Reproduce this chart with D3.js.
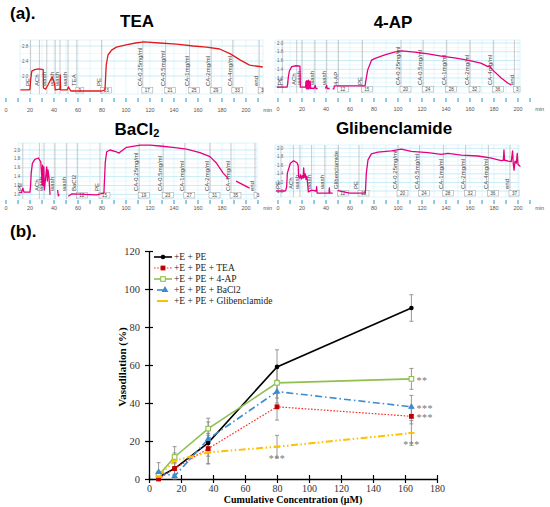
<!DOCTYPE html>
<html>
<head>
<meta charset="utf-8">
<script src="https://cdn.jsdelivr.net/npm/d3@7"></script>
<style>
  body { margin: 0; background: #fff; }
  svg { display: block; }
</style>
</head>
<body>
<svg width="550" height="507"></svg>
<script>
// ---------- (a) tension recordings : [minute, value] ----------
const minuteTicks = [0,10,20,30,40,50,60,70,80,90,100,110,120,130,140,150,160,170,180,190,200,210];
const minuteLabels = [0,20,40,60,80,100,120,140,160,180,200];

const teaYTicks = [2.8, 2.4, 2.0];
const otherYTicks = [2.0, 1.8, 1.6, 1.4, 1.2, 1.0];

const teaTrace = [[12,1.63],[19,1.63],[20,1.65],[20.5,1.89],[21.5,2.13],[24,2.17],[27,2.19],[31,2.17],[31.2,1.68],[33,1.65],
  [35,1.76],[37,1.89],[38.5,1.97],[39.5,1.89],[40.5,1.81],[41,1.63],[45,1.65],[45.2,2.03],[45.5,1.63],[51,1.63],
  [52,1.71],[54,1.6],[80,1.6],[82.5,1.63],[83.5,2.29],[85,2.56],[88,2.69],[92,2.77],[100,2.83],[108,2.88],[115,2.91],
  [128,2.88],[142,2.85],[156,2.8],[167,2.77],[178,2.72],[187,2.59],[195,2.43],[203,2.29],[214,2.24]];

const apTrace = [[-1,0.99],[7.5,0.99],[8,1.05],[8.6,1.22],[9.5,1.36],[11.4,1.46],[15,1.48],[18.3,1.47],[18.6,0.99],[22.7,0.99],
  [23,0.99],[23.3,1.12],[23.6,0.96],[24,1.14],[24.3,0.95],[24.7,1.13],[25,0.96],[25.4,1.15],[25.7,0.95],[26.1,1.12],
  [26.4,0.97],[26.8,1.13],[27.2,0.96],[28,0.97],[30,0.96],[31,1.03],[31.5,0.96],[33,0.96],[34,null],[39.5,0.96],
  [40.5,1.03],[41,0.96],[43,0.96],[44,null],[45.5,0.95],[46.5,0.95],[47,1.02],[72.5,1.02],[74.7,1.38],[78,1.61],
  [81,1.65],[89,1.73],[97,1.79],[103,1.82],[114,1.79],[125,1.75],[136,1.70],[147,1.66],[158,1.61],[169,1.54],
  [175,1.46],[176,1.48],[179,1.38],[186,1.2],[191.7,1.08],[194.4,1.04]];

const baTrace = [[11,1.05],[13,1.04],[14,1.14],[15,1.05],[20,1.05],[20.5,1.2],[21,1.48],[22,1.70],[24,1.79],[27,1.82],
  [29,1.73],[29.7,1.44],[30,1.21],[30.5,1.66],[31,1.2],[31.5,1.62],[32,1.1],[33.9,1.62],[34.5,1.3],[35,1.55],
  [35.8,1.39],[36.7,0.99],[38,null],[43,1.1],[43.6,0.97],[44.5,1.0],[45,null],[51.9,0.96],[54.7,1.01],[75.5,0.99],
  [81.6,1.03],[82.7,1.71],[83.9,1.96],[86.7,2.0],[92,1.96],[94,1.93],[96,1.97],[100.5,2.06],[112,2.11],[120,2.11],
  [128,2.09],[139,2.06],[150.5,2.02],[161.6,1.94],[170,1.85],[175.5,1.70],[181,1.48],[185,1.36],[188,null],
  [191.7,1.30],[203,1.14]];

const glTrace = [[-1.6,1.0],[5.8,1.0],[6.5,1.02],[7.2,1.1],[7.8,1.42],[10.3,1.65],[13,1.71],[15.8,1.66],[16.8,1.6],
  [17.2,1.34],[18,1.30],[18.8,1.38],[19.5,1.28],[20.3,1.36],[21,1.3],[21.4,1.54],[22,1.32],[22.7,1.4],[23.3,1.27],
  [24,1.35],[24.4,1.25],[25.3,0.98],[28,1.02],[31.8,1.0],[32.2,1.1],[32.6,0.95],[42.5,0.95],[42.8,1.07],[43.2,0.95],
  [45.6,0.95],[46,null],[49.8,1.01],[59.7,0.95],[68,0.95],[72.8,0.95],[73.6,1.42],[75,1.73],[77.8,1.87],[83.3,1.91],
  [94.4,1.94],[102.8,1.98],[111,1.93],[125,1.9],[136,1.86],[141.7,1.88],[152.8,1.84],[166.7,1.82],[177.8,1.77],
  [186,1.71],[187.8,1.72],[188.3,1.96],[188.8,1.72],[192,1.70],[194.4,1.69],[195.5,1.94],[196,1.66],[196.7,1.49],
  [197.5,1.7],[198.6,1.65],[199.4,1.88],[200,1.62],[201,1.6],[202,1.57]];

// event comments [minute, text] and numbered comment boxes [minute, number]
const teaMarks = [[20.5,"PE"],[27.8,"ACh"],[34,"wash"],[41,"wash"],[45,"wash"],[51.7,"wash"],[59,"TEA"],[79.7,"PE"],
  [114,"CA-0.25mg/ml"],[133,"CA-0.5mg/ml"],[153,"CA-1mg/ml"],[171,"CA-2mg/ml"],[189,"CA-4mg/ml"],[211,"end"]];
const teaBoxes = [[59,"9"],[79.7,"13"],[114,"17"],[133,"21"],[153,"25"],[171,"29"],[189,"33"],[211,"3"]];

const apMarks = [[3.6,"PE"],[15.6,"ACh"],[20,"wash"],[30.8,"wash"],[40.6,"wash"],[50.3,"4-AP"],[70.3,"PE"],
  [102.5,"CA-0.25mg/ml"],[121,"CA-0.5mg/ml"],[140.6,"CA-1mg/ml"],[160,"CA-2mg/ml"],[179.4,"CA-4mg/ml"],[197,"end"]];
const apBoxes = [[50.3,"12"],[70.3,"15"],[102.5,"20"],[121,"24"],[140.6,"28"],[160,"32"],[179.4,"36"],[197,"3"]];

const baMarks = [[14,"PE"],[27.8,"ACh"],[31.7,"wash"],[40.8,"wash"],[50.6,"wash"],[59.4,"BaCl2"],[78.3,"PE"],
  [111,"CA-0.25mg/ml"],[131,"CA-0.5mg/ml"],[149,"CA-1mg/ml"],[170,"CA-2mg/ml"],[187.5,"CA-4mg/ml"],[207.5,"end"]];
const baBoxes = [[59.4,"12"],[78.3,"15"],[111,"19"],[131,"23"],[149,"27"],[170,"31"],[187.5,"35"],[207.5,"3"]];

const glMarks = [[2.5,"PE"],[12.8,"ACh"],[18.3,"wash"],[28,"wash"],[39,"wash"],[50.3,"Glibenclamide"],[67.5,"PE"],
  [100,"CA-0.25mg/ml"],[118,"CA-0.5mg/ml"],[137.8,"CA-1mg/ml"],[156.4,"CA-2mg/ml"],[175.3,"CA-4mg/ml"],[193.3,"end"]];
const glBoxes = [[50.3,"12"],[67.5,"15"],[100,"20"],[118,"24"],[137.8,"28"],[156.4,"32"],[175.3,"36"],[193.3,"37"]];

// ---------- (b) concentration-response ----------
const concUM = [6, 16, 37, 80, 164];
const xTicksB = [0, 20, 40, 60, 80, 100, 120, 140, 160, 180];
const yTicksB = [0, 20, 40, 60, 80, 100, 120];
const legendNames = ["+E + PE", "+E + PE + TEA", "+E + PE + 4-AP", "+E + PE + BaCl2", "+E + PE + Glibenclamide"];

const peMean = [1, 5.5, 19, 59, 90];
const peSd = [2, 3, 4, 9, 7];
const teaMean = [0, 5.5, 16, 38, 33];
const teaSd = [1.5, 3, 8, 7, 4];
const apMean = [2, 11.6, 26.5, 50.6, 52.7];
const apSd = [2, 5.4, 5.5, 8, 5.5];
const baMean = [3.6, 1.5, 21, 46, 38];
const baSd = [5, 4, 9, 6, 6];
const glMean = [1.5, 9.7, 14, 17, 24.2];
const glSd = [2, 4, 6, 6, 6.5];

// significance marks: [series index, point index, text, placement]
const sigMarks = [[2, 4, "**", "right"], [3, 4, "***", "right"], [1, 4, "***", "right"], [4, 4, "***", "below"], [4, 3, "***", "below"]];

const sans = "'Liberation Sans', Arial, sans-serif";
const serif = "'Liberation Serif', 'Times New Roman', serif";
const svg = d3.select("svg");

svg.append("text").attr("x", 10).attr("y", 19)
  .attr("font-family", sans).attr("font-weight", "bold").attr("font-size", 17).text("(a).");
svg.append("text").attr("x", 10).attr("y", 237)
  .attr("font-family", sans).attr("font-weight", "bold").attr("font-size", 17).text("(b).");

const panels = [
  { title: "TEA", cx: 137, ty: 27, trace: teaTrace, marks: teaMarks, boxes: teaBoxes, yTicks: teaYTicks, color: "#e31a1c",
    frame: [20, 40, 263, 94], xStart: 6, yDomain: [2.0, 2.8], yRange: [76, 46], yLabelX: 22, axisY: 100, labelY: 112 },
  { title: "4-AP", cx: 393, ty: 28, trace: apTrace, marks: apMarks, boxes: apBoxes, yTicks: otherYTicks, color: "#e6007e",
    frame: [275, 40, 520, 93], xStart: 278, yDomain: [1, 2], yRange: [86.75, 43], yLabelX: 277, axisY: 100, labelY: 111 },
  { title: "BaCl", sub: "2", cx: 137, ty: 135, trace: baTrace, marks: baMarks, boxes: baBoxes, yTicks: otherYTicks, color: "#e6007e",
    frame: [18, 143, 257, 199], xStart: 6, yDomain: [1, 2], yRange: [194.4, 150], yLabelX: 14, axisY: 202, labelY: 210 },
  { title: "Glibenclamide", cx: 394, ty: 134, trace: glTrace, marks: glMarks, boxes: glBoxes, yTicks: otherYTicks, color: "#e6007e",
    frame: [275, 145, 519, 197], xStart: 278, yDomain: [1, 2], yRange: [191, 148.3], yLabelX: 277, axisY: 202, labelY: 210 }
];

function drawPanel(p) {
  const g = svg.append("g");
  const [L, T, R, B] = p.frame;
  const x = d3.scaleLinear().domain([0, 200]).range([p.xStart, p.xStart + 240]);
  const y = d3.scaleLinear().domain(p.yDomain).range(p.yRange);

  // title
  const title = g.append("text").attr("x", p.cx).attr("y", p.ty).attr("text-anchor", "middle")
    .attr("font-family", sans).attr("font-weight", "bold").attr("font-size", 17).text(p.title);
  if (p.sub) title.append("tspan").attr("font-size", 11).attr("dy", 2).text(p.sub);

  // grid
  g.append("rect").attr("x", L).attr("y", T).attr("width", R - L).attr("height", B - T)
    .attr("fill", "#fff").attr("stroke", "#cdeff8").attr("stroke-width", 0.6);
  const mids = p.yTicks.slice(1).map((v, i) => (v + p.yTicks[i]) / 2);
  g.selectAll(".hmin").data(mids).join("line")
    .attr("x1", L).attr("x2", R).attr("y1", d => y(d)).attr("y2", d => y(d))
    .attr("stroke", "#dcf3fa").attr("stroke-width", 0.5);
  g.selectAll(".hmaj").data(p.yTicks).join("line")
    .attr("x1", L).attr("x2", R).attr("y1", d => y(d)).attr("y2", d => y(d))
    .attr("stroke", "#a4e0f1").attr("stroke-width", 0.6);
  g.selectAll(".vg").data(minuteTicks.filter(t => x(t) > L && x(t) < R)).join("line")
    .attr("x1", d => x(d)).attr("x2", d => x(d)).attr("y1", T).attr("y2", B)
    .attr("stroke", "#c4ebf6").attr("stroke-width", 0.5);

  g.selectAll(".yl").data(p.yTicks).join("text")
    .attr("x", p.yLabelX).attr("y", d => y(d) + 1.5)
    .attr("font-family", sans).attr("font-size", 4.5).attr("fill", "#666")
    .text(d => d.toFixed(1));

  // event comments
  g.selectAll(".ev").data(p.marks).join("line")
    .attr("x1", d => x(d[0])).attr("x2", d => x(d[0])).attr("y1", T).attr("y2", B)
    .attr("stroke", "#a8a8a8").attr("stroke-width", 0.6);
  g.selectAll(".evt").data(p.marks).join("text")
    .attr("transform", d => `translate(${x(d[0]) - 0.8},${B - 8}) rotate(-90)`)
    .attr("font-family", sans).attr("font-size", 6).attr("fill", "#444")
    .text(d => d[1]);
  const bx = g.selectAll(".bx").data(p.boxes).join("g")
    .attr("transform", d => `translate(${x(d[0]) - 1},${B - 6.5})`);
  bx.append("rect").attr("width", d => Math.min(5 + 3 * d[1].length, R - x(d[0]) + 1)).attr("height", 5.5)
    .attr("fill", "#fff").attr("stroke", "#9a9a9a").attr("stroke-width", 0.5);
  bx.append("text").attr("x", d => (5 + 3 * d[1].length) / 2).attr("y", 4.3).attr("text-anchor", "middle")
    .attr("font-family", sans).attr("font-size", 4.6).attr("fill", "#444").text(d => d[1]);

  // trace
  const line = d3.line().defined(d => d[1] !== null).x(d => x(d[0])).y(d => y(d[1]));
  g.append("path").datum(p.trace).attr("d", line)
    .attr("fill", "none").attr("stroke", p.color).attr("stroke-width", 1.3).attr("stroke-linejoin", "round");

  // time axis
  g.selectAll(".tk").data(minuteTicks).join("line")
    .attr("x1", d => x(d)).attr("x2", d => x(d)).attr("y1", p.axisY - 2).attr("y2", p.axisY + 2)
    .attr("stroke", "#29a6dd").attr("stroke-width", 1.1);
  g.selectAll(".tl").data(minuteLabels).join("text")
    .attr("x", d => x(d)).attr("y", p.labelY).attr("text-anchor", "middle")
    .attr("font-family", sans).attr("font-size", 5.5).attr("fill", "#555").text(d => d);
  g.append("text").attr("x", x(218)).attr("y", p.labelY).attr("text-anchor", "middle")
    .attr("font-family", sans).attr("font-size", 5.5).attr("fill", "#555").text("min");
}

panels.forEach(drawPanel);

// ---------- (b) chart ----------
const xB = d3.scaleLinear().domain([0, 180]).range([149, 437]);
const yB = d3.scaleLinear().domain([0, 120]).range([479, 251]);

const series = [
  { mean: peMean, sd: peSd, color: "#000000", dash: null, width: 1.6, marker: "circle" },
  { mean: teaMean, sd: teaSd, color: "#ff2a2a", dash: "1.6,1.6", width: 1.2, marker: "square" },
  { mean: apMean, sd: apSd, color: "#8fbf4f", dash: null, width: 1.6, marker: "open" },
  { mean: baMean, sd: baSd, color: "#3b8bd0", dash: "7,3,1.5,3", width: 1.6, marker: "triangle" },
  { mean: glMean, sd: glSd, color: "#ffc000", dash: "7,2.5,1.5,2.5,1.5,2.5", width: 2, marker: "dash" }
];

const gb = svg.append("g");

const gx = gb.append("g").attr("transform", "translate(0,479)")
  .call(d3.axisBottom(xB).tickValues(xTicksB).tickSizeInner(4).tickSizeOuter(0).tickPadding(2));
gx.selectAll(".tick line").attr("y1", -4).attr("y2", 4);
const gy = gb.append("g").attr("transform", "translate(149,0)")
  .call(d3.axisLeft(yB).tickValues(yTicksB).tickSizeInner(4).tickSizeOuter(0).tickPadding(5));
gy.selectAll(".tick line").attr("x1", -4).attr("x2", 4);
[gx, gy].forEach(a => {
  a.attr("font-family", serif).attr("font-size", 10.5);
  a.select(".domain").attr("stroke", "#000").attr("stroke-width", 1.3);
  a.selectAll(".tick line").attr("stroke", "#000").attr("stroke-width", 1.2);
  a.selectAll(".tick text").attr("fill", "#333");
});
gx.attr("font-size", 10);

// error bars
series.forEach(s => {
  const eb = gb.append("g").attr("stroke", "#8c8c8c").attr("stroke-width", 0.9);
  s.mean.forEach((m, i) => {
    const cx = xB(concUM[i]);
    const lo = yB(Math.max(0, m - s.sd[i])), hi = yB(m + s.sd[i]);
    eb.append("line").attr("x1", cx).attr("x2", cx).attr("y1", lo).attr("y2", hi);
    eb.append("line").attr("x1", cx - 2).attr("x2", cx + 2).attr("y1", hi).attr("y2", hi);
    eb.append("line").attr("x1", cx - 2).attr("x2", cx + 2).attr("y1", lo).attr("y2", lo);
  });
});

const lineB = d3.line().x((d, i) => xB(concUM[i])).y(d => yB(d));
series.forEach(s => {
  gb.append("path").datum(s.mean).attr("d", lineB)
    .attr("fill", "none").attr("stroke", s.color).attr("stroke-width", s.width)
    .attr("stroke-dasharray", s.dash);
});

function drawMarker(g, s, cx, cy) {
  if (s.marker === "circle") {
    g.append("circle").attr("cx", cx).attr("cy", cy).attr("r", 2.3).attr("fill", s.color);
  } else if (s.marker === "square") {
    g.append("rect").attr("x", cx - 2.4).attr("y", cy - 2.4).attr("width", 4.8).attr("height", 4.8).attr("fill", "#c00000");
  } else if (s.marker === "open") {
    g.append("rect").attr("x", cx - 2.3).attr("y", cy - 2.3).attr("width", 4.6).attr("height", 4.6)
      .attr("fill", "#fff").attr("stroke", s.color).attr("stroke-width", 1.1);
  } else if (s.marker === "triangle") {
    g.append("path").attr("transform", `translate(${cx},${cy})`)
      .attr("d", d3.symbol(d3.symbolTriangle).size(20)()).attr("fill", s.color);
  } else {
    g.append("line").attr("x1", cx - 3).attr("x2", cx + 3).attr("y1", cy).attr("y2", cy)
      .attr("stroke", s.color).attr("stroke-width", 2);
  }
}

series.forEach(s => {
  s.mean.forEach((m, i) => drawMarker(gb, s, xB(concUM[i]), yB(m)));
});

// significance
sigMarks.forEach(([si, pi, txt, where]) => {
  const px = xB(concUM[pi]), py = yB(series[si].mean[pi]);
  gb.append("text")
    .attr("x", where === "right" ? px + 5 : px)
    .attr("y", where === "right" ? py + 5 : py + 15)
    .attr("text-anchor", where === "right" ? "start" : "middle")
    .attr("font-family", serif).attr("font-size", 10).attr("letter-spacing", 0.5)
    .attr("fill", "#777").text(txt);
});

// legend
const lg = gb.selectAll(".lg").data(series).join("g")
  .attr("transform", (d, i) => `translate(0,${257 + i * 11})`);
lg.each(function (s, i) {
  const g = d3.select(this);
  const x1 = i >= 3 ? 157 : 154, x2 = i >= 3 ? 167 : 172;
  g.append("line").attr("x1", x1).attr("x2", x2).attr("y1", 0).attr("y2", 0)
    .attr("stroke", s.color).attr("stroke-width", s.width)
    .attr("stroke-dasharray", i === 1 ? s.dash : null);
  drawMarker(g, s, i >= 3 ? 165 : 163, 0);
  g.append("text").attr("x", 174).attr("y", 0).attr("dy", "0.35em")
    .attr("font-family", serif).attr("font-size", 9.5).attr("fill", "#222").text(legendNames[i]);
});

// axis titles
gb.append("text").attr("transform", "translate(126,367) rotate(-90)").attr("text-anchor", "middle")
  .attr("font-family", serif).attr("font-weight", "bold").attr("font-size", 11).text("Vasodilation (%)");
gb.append("text").attr("x", 293).attr("y", 503).attr("text-anchor", "middle")
  .attr("font-family", serif).attr("font-weight", "bold").attr("font-size", 10).text("Cumulative  Concentration  (μM)");
</script>
</body>
</html>
